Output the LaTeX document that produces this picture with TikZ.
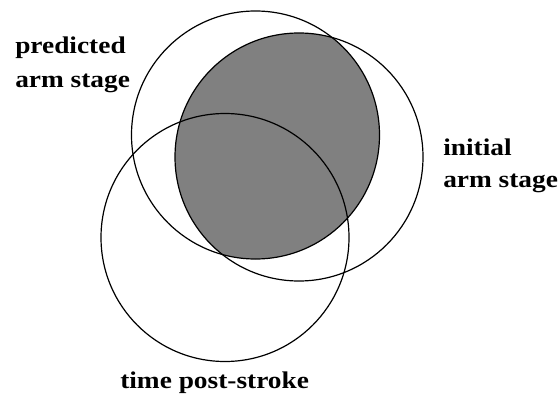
\documentclass[tikz,border=0pt]{standalone}
\usepackage{fontspec}
\setmainfont{Liberation Serif}
\definecolor{shadegray}{RGB}{128,128,128}
\begin{document}
\begin{tikzpicture}[x=0.75pt,y=-0.75pt,
  ring/.style={draw=black,line width=0.9pt},
  lbl/.style={anchor=base west,inner sep=0pt,text=black}]
\useasboundingbox (0,0) rectangle (560,396);
% shaded overlap of predicted and initial
\begin{scope}
  \clip (255.5,135) circle [radius=93pt];
  \fill[shadegray] (299,157) circle [radius=93pt];
\end{scope}
% circles
\draw[ring] (255.5,135) circle [radius=93pt];
\draw[ring] (299,157) circle [radius=93pt];
\draw[ring] (225,237.5) circle [radius=93pt];
% labels
\node[lbl] (pred) at (15,53) {\scalebox{1.14}[1]{\fontsize{18}{25.5}\selectfont\bfseries
  \begin{tabular}[t]{@{}l@{}}predicted\\arm stage\end{tabular}}};
\node[lbl] (init) at (443,155) {\scalebox{1.14}[1]{\fontsize{18}{24}\selectfont\bfseries
  \begin{tabular}[t]{@{}l@{}}initial\\arm stage\end{tabular}}};
\node[lbl] (time) at (120,388) {\scalebox{1.14}[1]{\fontsize{18}{24}\selectfont\bfseries time post-stroke}};
\end{tikzpicture}
\end{document}
